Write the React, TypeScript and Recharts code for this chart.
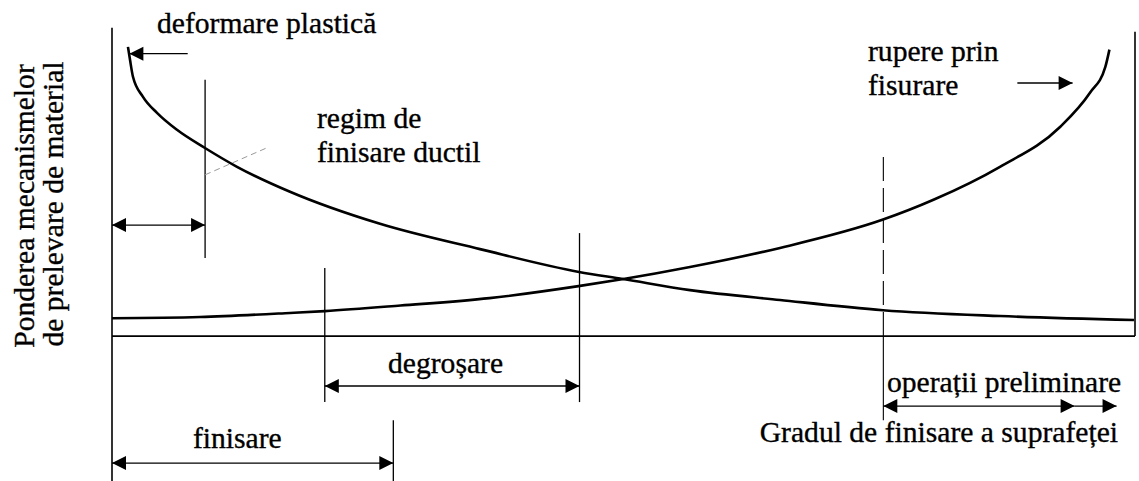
import React from 'react';
import { LineChart, Line, XAxis, YAxis, ReferenceLine } from 'recharts';

// x: degree of surface finish (0..100), y: share of the removal mechanism (0..100)
// negative y is the space under the base line, used for the range arrows
const plasticX = [1.56, 1.76, 2.05, 3.03, 4.4, 6.35, 9.09, 12.22, 17.4, 26.2, 35.97, 45.65, 49.95, 56.5, 65.3, 75.37, 86.8, 99.9];
const plasticY = [93.8, 89.6, 84.1, 77.6, 72.4, 66.9, 61.0, 54.9, 46.8, 36.4, 28.2, 20.8, 18.5, 14.9, 11.7, 8.4, 6.5, 5.2];

const crackX = [0, 8.6, 17.4, 20.8, 28.2, 36.9, 45.6, 50.0, 56.5, 65.3, 75.3, 80.3, 86.8, 92.7, 95.6, 97.1, 97.5];
const crackY = [5.8, 6.2, 7.5, 8.1, 9.9, 12.3, 16.2, 18.5, 22.4, 28.6, 37.7, 44.2, 54.9, 67.9, 78.9, 87.3, 92.9];

// vertical dividers: x, top, bottom
const dividerX = [9.1, 20.8, 45.7, 27.5];
const dividerTop = [83.1, 22.1, 33.4, -27.3];
const dividerBottom = [25.3, -21.4, -21.4, -47];

// dashed divider for "operații preliminare"
const prelimX = 75.4;
const prelimTop = 58.1;
const prelimBottom = -27.3;

// double-headed range arrows
const rangeFrom = [0, 20.8, 0, 75.4];
const rangeTo = [9.1, 45.7, 27.5, 94.1];
const rangeY = [36.0, -16.2, -41.2, -22.7];

const plasticData = plasticX.map((x, i) => ({ x, y: plasticY[i] }));
const crackData = crackX.map((x, i) => ({ x, y: crackY[i] }));

const INK = '#000';
const FONT = "'Liberation Serif', 'Times New Roman', Times, 'DejaVu Serif', serif";

type Heads = { start?: boolean; end?: boolean };

const arrowShape = (heads: Heads) => (props: any) => {
  const { x1, y1, x2, y2 } = props;
  const dir = Math.sign(x2 - x1) || 1;
  const len = 14;
  const half = 7;
  return (
    <g>
      <line x1={x1} y1={y1} x2={x2} y2={y2} stroke={INK} strokeWidth={1.4} />
      {heads.start && (
        <polygon points={`${x1},${y1} ${x1 + dir * len},${y1 - half} ${x1 + dir * len},${y1 + half}`} fill={INK} />
      )}
      {heads.end && (
        <polygon points={`${x2},${y2} ${x2 - dir * len},${y2 - half} ${x2 - dir * len},${y2 + half}`} fill={INK} />
      )}
    </g>
  );
};

// scanned original has heavy type, so a thin stroke thickens the glyphs a bit
const textStyle = {
  style: { fontFamily: FONT, fontSize: 29.6, fill: '#000', stroke: '#000', strokeWidth: 0.35 },
};

export default function App() {
  return (
    <div style={{ position: 'relative', width: 1139, height: 481, background: '#fff' }}>
      <style>{'body{margin:0;background:#fff}'}</style>
      <LineChart width={1139} height={481} margin={{ top: 0, right: 4, bottom: 0, left: 112 }}>
        <XAxis type="number" dataKey="x" domain={[0, 100]} hide />
        <YAxis type="number" dataKey="y" domain={[-47, 109]} hide />

        {/* frame */}
        <ReferenceLine segment={[{ x: 0, y: 100 }, { x: 0, y: -47 }]} stroke={INK} strokeWidth={1.6} />
        <ReferenceLine segment={[{ x: 100, y: 98.7 }, { x: 100, y: 0 }]} stroke={INK} strokeWidth={1.6} />
        <ReferenceLine segment={[{ x: 0, y: 0 }, { x: 100, y: 0 }]} stroke={INK} strokeWidth={1.6} />

        {dividerX.map((x, i) => (
          <ReferenceLine
            key={`div-${i}`}
            segment={[{ x, y: dividerTop[i] }, { x, y: dividerBottom[i] }]}
            stroke={INK}
            strokeWidth={1.3}
          />
        ))}
        <ReferenceLine
          segment={[{ x: prelimX, y: prelimTop }, { x: prelimX, y: 0 }]}
          stroke={INK}
          strokeWidth={1.1}
          strokeDasharray="24 7"
        />
        <ReferenceLine
          segment={[{ x: prelimX, y: 0 }, { x: prelimX, y: prelimBottom }]}
          stroke={INK}
          strokeWidth={1.1}
        />

        {/* leader for "regim de finisare ductil" */}
        <ReferenceLine
          segment={[{ x: 9.1, y: 52.3 }, { x: 15.1, y: 61.0 }]}
          stroke="#999"
          strokeWidth={1}
          strokeDasharray="6 4"
        />

        {rangeFrom.map((from, i) => (
          <ReferenceLine
            key={`range-${i}`}
            segment={[{ x: from, y: rangeY[i] }, { x: rangeTo[i], y: rangeY[i] }]}
            shape={arrowShape({ start: true, end: true })}
          />
        ))}
        <ReferenceLine
          segment={[{ x: 94.1, y: -22.7 }, { x: 98.2, y: -22.7 }]}
          shape={arrowShape({ end: true })}
        />
        <ReferenceLine
          segment={[{ x: 1.7, y: 91.6 }, { x: 7.4, y: 91.6 }]}
          shape={arrowShape({ start: true })}
        />
        <ReferenceLine
          segment={[{ x: 88.5, y: 82.1 }, { x: 93.9, y: 82.1 }]}
          shape={arrowShape({ end: true })}
        />

        <Line
          data={plasticData}
          dataKey="y"
          type="monotone"
          stroke={INK}
          strokeWidth={2.6}
          dot={false}
          activeDot={false}
          isAnimationActive={false}
        />
        <Line
          data={crackData}
          dataKey="y"
          type="monotone"
          stroke={INK}
          strokeWidth={2.6}
          dot={false}
          activeDot={false}
          isAnimationActive={false}
        />
      </LineChart>

      <svg
        width={1139}
        height={481}
        style={{ position: 'absolute', left: 0, top: 0, pointerEvents: 'none' }}
      >
        <text x={157} y={33} {...textStyle}>deformare plastică</text>
        <text x={317} y={128} {...textStyle}>regim de</text>
        <text x={317} y={162} {...textStyle}>finisare ductil</text>
        <text x={868} y={61} {...textStyle}>rupere prin</text>
        <text x={868} y={95} {...textStyle}>fisurare</text>
        <text x={388} y={373} {...textStyle}>degroșare</text>
        <text x={193} y={448} {...textStyle}>finisare</text>
        <text x={887} y={392} {...textStyle}>operații preliminare</text>
        <text x={1118} y={442} textAnchor="end" {...textStyle}>Gradul de finisare a suprafeței</text>
        <text transform="translate(34,206) rotate(-90)" textAnchor="middle" {...textStyle}>
          Ponderea mecanismelor
        </text>
        <text transform="translate(63,204) rotate(-90)" textAnchor="middle" {...textStyle}>
          de prelevare de material
        </text>
      </svg>
    </div>
  );
}
